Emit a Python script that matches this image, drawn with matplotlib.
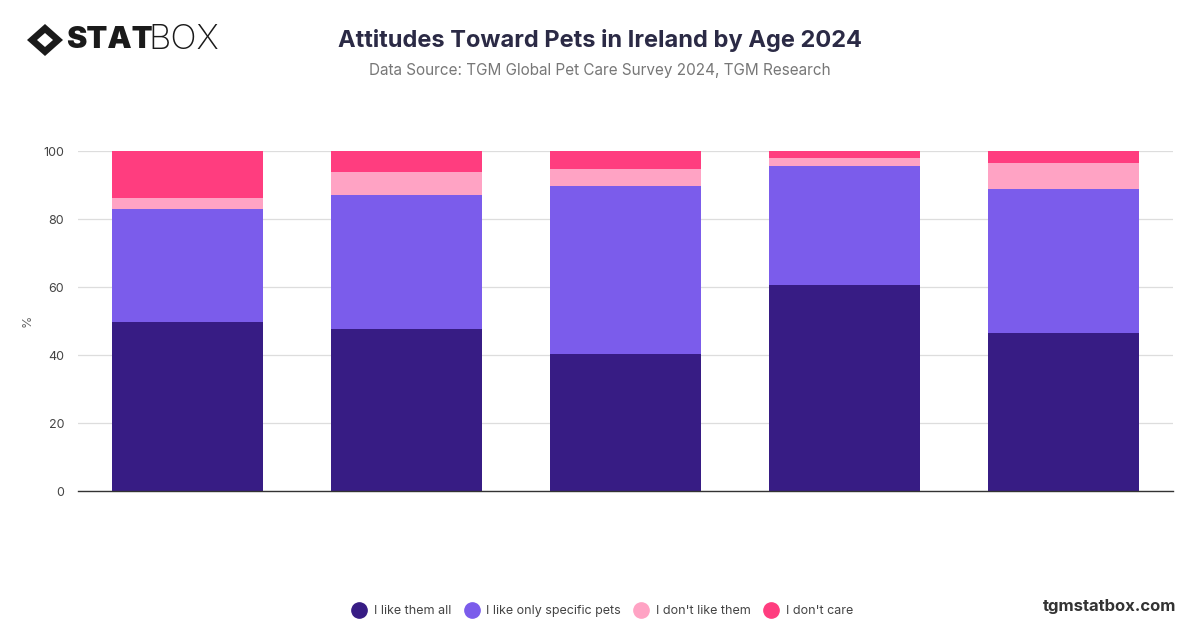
import matplotlib
matplotlib.use("Agg")
import matplotlib.pyplot as plt
from matplotlib.patches import Polygon
import numpy as np

categories = ["18-24", "25-34", "35-44", "45-54", "55-64"]
series_names = ["I like them all", "I like only specific pets", "I don't like them", "I don't care"]
like_all = [49.8, 47.6, 40.2, 60.5, 46.6]
like_specific = [33.0, 39.5, 49.6, 35.0, 42.3]
dont_like = [3.4, 6.8, 4.9, 2.4, 7.5]
dont_care = [13.8, 6.1, 5.3, 2.1, 3.6]
colors = ["#371c84", "#7b5ceb", "#ffa3c4", "#ff3d7f"]
yticks = [0, 20, 40, 60, 80, 100]

plt.rcParams['font.family'] = ['Inter', 'DejaVu Sans']

fig = plt.figure(figsize=(12, 6.28), dpi=100)
ax = fig.add_axes([78/1200, 1 - 491/628, 1095/1200, 340/628])

x = np.arange(len(categories))
bottom = np.zeros(len(categories))
for vals, col, name in zip([like_all, like_specific, dont_like, dont_care], colors, series_names):
    ax.bar(x, vals, 0.69, bottom=bottom, color=col, label=name, zorder=3,
           edgecolor='none')
    bottom += np.array(vals)

ax.set_xlim(-0.5, len(categories) - 0.5)
ax.set_ylim(0, 100)
ax.set_yticks(yticks)
ax.set_yticklabels([str(t) for t in yticks], fontsize=9, color='#444444')
ax.set_xticks([])
ax.grid(axis='y', color='#dddddd', linewidth=0.9, zorder=0)
for s in ['top', 'right', 'left']:
    ax.spines[s].set_visible(False)
ax.spines['bottom'].set_color('#333333')
ax.spines['bottom'].set_linewidth(1.0)
ax.spines['bottom'].set_zorder(4)
ax.tick_params(axis='y', length=0, pad=10)
fig.text(28/1200, 1 - 321/628, '%', rotation=90, ha='center', va='center',
         fontsize=9, color='#666666')

fig.text(600/1200, 1 - 40/628, "Attitudes Toward Pets in Ireland by Age 2024",
         ha='center', va='center', fontsize=17, fontweight='bold', color='#2b2a45')
fig.text(600/1200, 1 - 71/628, "Data Source: TGM Global Pet Care Survey 2024, TGM Research",
         ha='center', va='center', fontsize=11, color='#777777')

# logo
lx, ly = 45, 40
W, H = 1200, 628
outer = [(lx - 18, ly), (lx, ly - 16), (lx + 18, ly), (lx, ly + 16)]
inner = [(lx - 8, ly), (lx, ly - 7), (lx + 8, ly), (lx, ly + 7)]
fig.patches.append(Polygon([(px / W, 1 - py / H) for px, py in outer], closed=True,
                           transform=fig.transFigure, facecolor='#1a1a1a', edgecolor='none'))
fig.patches.append(Polygon([(px / W, 1 - py / H) for px, py in inner], closed=True,
                           transform=fig.transFigure, facecolor='white', edgecolor='none'))
fig.text(66/1200, 1 - 40/628, "STAT", ha='left', va='center', fontsize=22,
         fontweight='black', color='#1a1a1a')
fig.text(148/1200, 1 - 40/628, "BOX", ha='left', va='center', fontsize=25,
         fontweight='light', color='#1a1a1a')

fig.text(1176/1200, 1 - 606/628, "tgmstatbox.com", ha='right', va='center',
         fontsize=12, fontweight='bold', color='#333333')

handles = [plt.Line2D([0], [0], marker='o', linestyle='none', markersize=11,
                      markerfacecolor=c, markeredgecolor=c) for c in colors]
fig.legend(handles, series_names, loc='center', bbox_to_anchor=(600/1200, 1 - 611/628),
           ncol=4, frameon=False, fontsize=9, handletextpad=0.2, columnspacing=0.6,
           labelcolor='#444444')

fig.savefig("out.png", dpi=100)
